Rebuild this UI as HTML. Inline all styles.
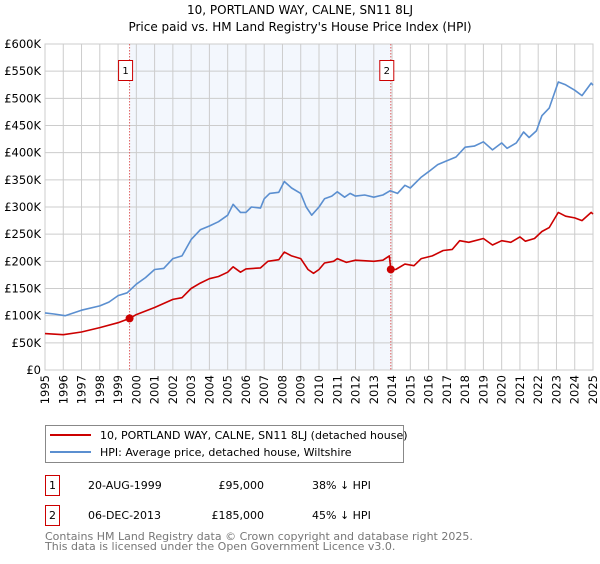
<!DOCTYPE html>
<html><head><meta charset="utf-8">
<style>
body{margin:0;width:600px;height:560px;background:#fff;font-family:"DejaVu Sans","Liberation Sans",sans-serif;overflow:hidden}
svg text{font-family:"DejaVu Sans","Liberation Sans",sans-serif}
</style></head>
<body>
<svg id="chart" width="600" height="560">
<text x="300" y="14" text-anchor="middle" font-size="12">10, PORTLAND WAY, CALNE, SN11 8LJ</text>
<text x="300" y="31" text-anchor="middle" font-size="12">Price paid vs. HM Land Registry's House Price Index (HPI)</text>
<g id="grid"></g>
<g id="series"></g>
<g>
<rect x="45.5" y="425.5" width="358" height="37" fill="#fff" stroke="#888"/>
<line x1="50" y1="435" x2="91" y2="435" stroke="#cc0000" stroke-width="2"/>
<text x="100" y="439" font-size="11">10, PORTLAND WAY, CALNE, SN11 8LJ (detached house)</text>
<line x1="50" y1="452" x2="91" y2="452" stroke="#5b8fd0" stroke-width="2"/>
<text x="100" y="456" font-size="11">HPI: Average price, detached house, Wiltshire</text>
</g>
<g font-size="11">
<rect x="45.5" y="475.5" width="14" height="20" fill="none" stroke="#cc0000"/>
<text x="52.5" y="489" text-anchor="middle">1</text>
<text x="88" y="489">20-AUG-1999</text>
<text x="264" y="489" text-anchor="end">£95,000</text>
<text x="312" y="489">38% ↓ HPI</text>
<rect x="45.5" y="505.5" width="14" height="20" fill="none" stroke="#cc0000"/>
<text x="52.5" y="519" text-anchor="middle">2</text>
<text x="88" y="519">06-DEC-2013</text>
<text x="264" y="519" text-anchor="end">£185,000</text>
<text x="312" y="519">45% ↓ HPI</text>
</g>
<text x="45" y="540" font-size="11" fill="#777">Contains HM Land Registry data © Crown copyright and database right 2025.</text>
<text x="45" y="550" font-size="11" fill="#777">This data is licensed under the Open Government Licence v3.0.</text>
</svg>
<script>
const yearTicks=[1995,1996,1997,1998,1999,2000,2001,2002,2003,2004,2005,2006,2007,2008,2009,2010,2011,2012,2013,2014,2015,2016,2017,2018,2019,2020,2021,2022,2023,2024,2025];
const priceTicks=[0,50,100,150,200,250,300,350,400,450,500,550,600];
const priceTickLabels=["£0","£50K","£100K","£150K","£200K","£250K","£300K","£350K","£400K","£450K","£500K","£550K","£600K"];
const hpiYears=[1995,1995.5,1996.1,1997,1998,1998.5,1999,1999.5,2000,2000.5,2001,2001.5,2002,2002.5,2003,2003.5,2004,2004.5,2005,2005.3,2005.7,2006,2006.3,2006.8,2007,2007.3,2007.8,2008.1,2008.5,2009,2009.3,2009.6,2010,2010.3,2010.7,2011,2011.4,2011.7,2012,2012.5,2013,2013.5,2013.9,2014.3,2014.7,2015,2015.6,2016,2016.5,2017,2017.5,2018,2018.5,2019,2019.5,2020,2020.3,2020.8,2021.2,2021.5,2021.9,2022.2,2022.6,2023.1,2023.5,2024,2024.4,2024.9,2025];
const hpiValues=[105,103,100,110,118,125,137,142,158,170,185,187,205,210,240,258,265,273,285,305,290,290,300,298,315,325,327,347,335,325,300,285,300,315,320,328,318,325,320,322,318,322,330,325,340,335,355,365,378,385,392,410,412,420,405,418,408,418,438,428,440,468,482,530,525,515,505,528,524];
const ppYears=[1995,1996,1997,1998,1999,1999.63,2000,2001,2002,2002.5,2003,2003.5,2004,2004.5,2005,2005.3,2005.7,2006,2006.8,2007.2,2007.8,2008.1,2008.5,2009,2009.4,2009.7,2010,2010.3,2010.8,2011,2011.5,2012,2013,2013.5,2013.85,2013.93,2014.2,2014.7,2015.2,2015.6,2016.2,2016.8,2017.3,2017.7,2018.2,2019,2019.5,2020,2020.5,2021,2021.3,2021.8,2022.2,2022.6,2023.1,2023.5,2024,2024.4,2024.9,2025];
const ppValues=[67,65,70,78,87,95,102,115,130,133,150,160,168,172,180,190,180,186,188,200,203,217,210,205,185,178,185,197,200,205,198,202,200,202,210,185,185,195,192,205,210,220,222,238,235,242,230,238,235,245,237,242,255,262,290,283,280,275,290,287];
const saleYears=[1999.63,2013.93];
const saleValues=[95,185];
const saleLabels=["1","2"];

const NS="http://www.w3.org/2000/svg";
const X0=45,X1=593,Y0=370,Y1=44;
const xS=y=>X0+(y-1995)/30*(X1-X0);
const yS=v=>Y0-v/600*(Y0-Y1);
function mk(tag,attrs,parent){const e=document.createElementNS(NS,tag);for(const k in attrs)e.setAttribute(k,attrs[k]);parent.appendChild(e);return e;}
const grid=document.getElementById('grid'),ser=document.getElementById('series');
const band=mk('rect',{x:xS(saleYears[0]),y:Y1,width:xS(saleYears[1])-xS(saleYears[0]),height:Y0-Y1,fill:'#eef3fc',opacity:0.7},grid);


priceTicks.forEach((v,i)=>{
  const l=mk('line',{x1:X0,x2:X1,y1:yS(v),y2:yS(v),stroke:'#ccc'},grid);
  
  
  const t=mk('text',{x:X0-4,y:yS(v)+4,'text-anchor':'end','font-size':'11.5'},grid);
  t.textContent=priceTickLabels[i];
  
  
});
yearTicks.forEach(yr=>{
  const l=mk('line',{x1:xS(yr),x2:xS(yr),y1:Y1,y2:Y0,stroke:'#ccc'},grid);
  
  
  const t=mk('text',{x:0,y:0,'font-size':'11.5','text-anchor':'end',transform:`translate(${xS(yr)+4},${Y0+5}) rotate(-90)`},grid);
  t.textContent=yr;
  
  
});
const border=mk('rect',{x:X0,y:Y1,width:X1-X0,height:Y0-Y1,fill:'none',stroke:'#ccc'},grid);


saleYears.forEach((yr,i)=>{
  const l=mk('line',{x1:xS(yr),x2:xS(yr),y1:Y1,y2:Y0,stroke:'#e06060','stroke-dasharray':'1.5,1.5'},ser);
  
  
});
function path(xs,vs,color,name){
  const d=xs.map((x,i)=>(i?'L':'M')+xS(x).toFixed(1)+','+yS(vs[i]).toFixed(1)).join('');
  const p=mk('path',{d:d,fill:'none',stroke:color,'stroke-width':1.6,'stroke-linejoin':'round'},ser);
  
  
}
path(hpiYears,hpiValues,'#5b8fd0','hpi-line');
path(ppYears,ppValues,'#cc0000','price-paid-line');
saleYears.forEach((yr,i)=>{
  const c=mk('circle',{cx:xS(yr),cy:yS(saleValues[i]),r:4,fill:'#cc0000'},ser);
  
  
  const bx=xS(yr)-4;
  const r=mk('rect',{x:bx-7,y:60.5,width:14,height:20,fill:'#fff',stroke:'#cc0000'},ser);
  
  
  const t=mk('text',{x:bx,y:74,'text-anchor':'middle','font-size':'10'},ser);
  t.textContent=saleLabels[i];
  
  
});
</script>
</body></html>
